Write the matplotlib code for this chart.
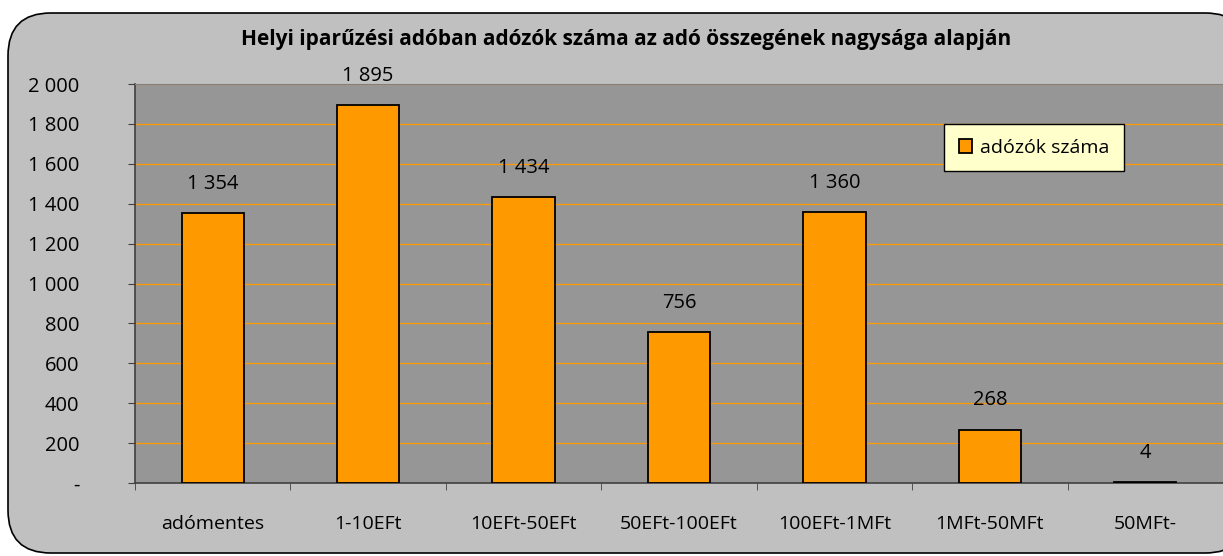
import numpy as np
import matplotlib
matplotlib.use("Agg")
import matplotlib.pyplot as plt
from matplotlib.patches import FancyBboxPatch

# data
categories = ['adómentes', '1-10EFt', '10EFt-50EFt', '50EFt-100EFt', '100EFt-1MFt', '1MFt-50MFt', '50MFt-']
values = [1354, 1895, 1434, 756, 1360, 268, 4]
yticks = [0, 200, 400, 600, 800, 1000, 1200, 1400, 1600, 1800, 2000]
title = 'Helyi iparűzési adóban adózók száma az adó összegének nagysága alapján'
series_name = 'adózók száma'

def fmt(v):
    if v == 0:
        return '-'
    return f'{v:,}'.replace(',', ' ')

plt.rcParams['font.family'] = ['Open Sans', 'DejaVu Sans']

fig = plt.figure(figsize=(12.23, 5.56), dpi=100)
fig.patch.set_facecolor('white')

# rounded chart area
box = FancyBboxPatch((8/1223, 3/556), 1240/1223, 540/556,
                     boxstyle='round,pad=0,rounding_size=0.035',
                     transform=fig.transFigure, facecolor='#C0C0C0',
                     edgecolor='black', linewidth=1.2, mutation_aspect=1223/556,
                     zorder=-1)
fig.patches.append(box)

ax = fig.add_axes([135/1223, 73/556, 1088/1223, 399/556])
ax.set_facecolor('#969696')

x = np.arange(len(categories))
ax.bar(x, values, width=0.4, color='#FF9900', edgecolor='black', linewidth=1.3,
       label=series_name, zorder=3)

for xi, v in zip(x, values):
    ax.annotate(fmt(v), (xi, v), xytext=(0, 21), textcoords='offset points',
                ha='center', va='center', fontsize=14.5)

ax.set_xlim(-0.5, len(categories) - 0.5)
ax.set_ylim(0, 2000)
ax.set_yticks(yticks)
ax.set_yticklabels([fmt(t) for t in yticks], fontsize=14.5)
ax.yaxis.grid(True, color='#FF9900', linewidth=0.9, zorder=0)
ax.set_axisbelow(True)
ax.tick_params(axis='y', length=5, pad=35, color='#404040')

ax.set_xticks(x)
ax.set_xticklabels(categories, fontsize=14)
ax.set_xticks(np.arange(len(categories) + 1) - 0.5, minor=True)
ax.tick_params(axis='x', which='major', length=0, pad=23)
ax.tick_params(axis='x', which='minor', length=5, color='#404040')

for s in ['left', 'bottom']:
    ax.spines[s].set_color('#404040')
    ax.spines[s].set_linewidth(1.2)
ax.spines['top'].set_color('#808080')
ax.spines['right'].set_visible(False)

fig.text(626/1223, 1 - 40/556, title, ha='center', va='center',
         fontsize=15, fontweight='bold')

leg = ax.legend(loc='upper left', bbox_to_anchor=((944 - 135) / 1088, (483 - 124) / 399),
                fontsize=14, frameon=True, fancybox=False, handlelength=0.7,
                handleheight=0.7, handletextpad=0.4, borderpad=0.75,
                borderaxespad=0)
leg.get_frame().set_facecolor('#FFFFCC')
leg.get_frame().set_edgecolor('black')
leg.get_frame().set_alpha(1)

fig.savefig('out.png', dpi=100, facecolor=fig.get_facecolor())
